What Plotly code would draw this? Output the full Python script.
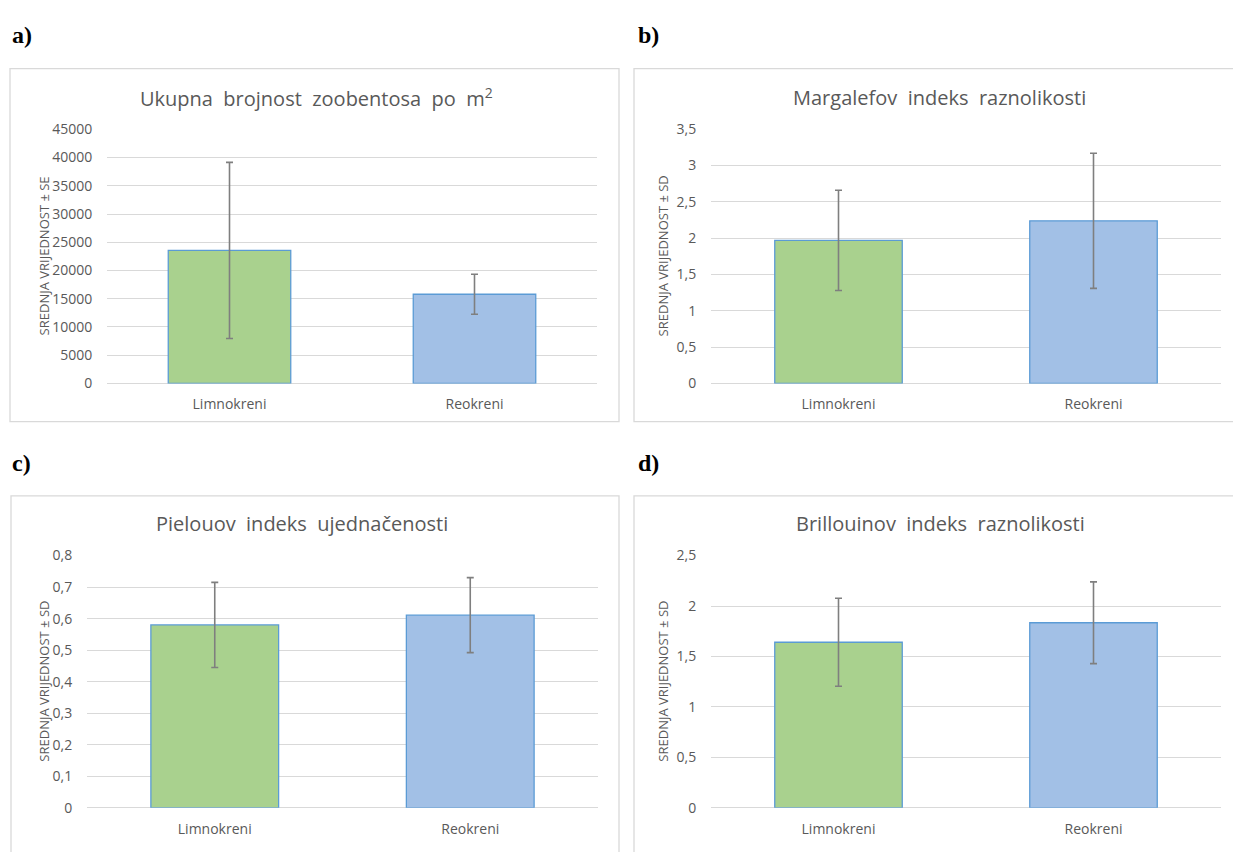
import plotly.graph_objects as go

W, H = 1233, 852

categories = ["Limnokreni", "Reokreni"]

# a) Ukupna brojnost zoobentosa po m2 (mean ± SE)
abund_mean = [23550, 15800]
abund_se = [15600, 3550]
# b) Margalefov indeks (mean ± SD)
marg_mean = [1.97, 2.24]
marg_sd = [0.69, 0.93]
# c) Pielouov indeks (mean ± SD)
piel_mean = [0.58, 0.611]
piel_sd = [0.135, 0.119]
# d) Brillouinov indeks (mean ± SD)
bril_mean = [1.641, 1.834]
bril_sd = [0.436, 0.405]

bar_colors = ["#A9D18E", "#A2C0E6"]
bar_line = "#5B9BD5"
err_color = "#7F7F7F"
grid_color = "#D9D9D9"
text_color = "#595959"
FONT = "Open Sans"


def px(x):
    return x / W


def py(y):
    return 1 - y / H


def wide(s):
    return s.replace(" ", "\u00a0 ")


panels = [
    dict(mean=abund_mean, err=abund_se, rng=[0, 45000], dtick=5000, fmt="d",
         dom_x=[107, 597], dom_y=[122, 382],
         title=wide("Ukupna brojnost zoobentosa po m") + "<sup>2</sup>", title_xy=(316, 89),
         ylab="SREDNJA VRIJEDNOST ± SE", ylab_xy=(44, 252),
         letter="a)", letter_xy=(10, 26), box=(10, 60, 619, 421)),
    dict(mean=marg_mean, err=marg_sd, rng=[0, 3.5], dtick=0.5, fmt="",
         dom_x=[711, 1221], dom_y=[122, 382],
         title=wide("Margalefov indeks raznolikosti"), title_xy=(939, 89),
         ylab="SREDNJA VRIJEDNOST ± SD", ylab_xy=(663, 252),
         letter="b)", letter_xy=(636, 26), box=(634, 60, 1245, 421)),
    dict(mean=piel_mean, err=piel_sd, rng=[0, 0.8], dtick=0.1, fmt="",
         dom_x=[87, 598], dom_y=[558, 816],
         title=wide("Pielouov indeks ujednačenosti"), title_xy=(302, 525),
         ylab="SREDNJA VRIJEDNOST ± SD", ylab_xy=(44, 687),
         letter="c)", letter_xy=(10, 463), box=(11, 497, 619, 870)),
    dict(mean=bril_mean, err=bril_sd, rng=[0, 2.5], dtick=0.5, fmt="",
         dom_x=[711, 1221], dom_y=[558, 816],
         title=wide("Brillouinov indeks raznolikosti"), title_xy=(940, 525),
         ylab="SREDNJA VRIJEDNOST ± SD", ylab_xy=(663, 687),
         letter="d)", letter_xy=(636, 463), box=(634, 497, 1245, 870)),
]

fig = go.Figure()
annotations = []
shapes = []
layout_axes = {}

for i, p in enumerate(panels, start=1):
    xa = "x" if i == 1 else f"x{i}"
    ya = "y" if i == 1 else f"y{i}"
    fig.add_trace(go.Bar(
        x=categories, y=p["mean"], xaxis=xa, yaxis=ya, width=0.5,
        marker=dict(color=bar_colors, line=dict(color=bar_line, width=1.3)),
        error_y=dict(type="data", array=p["err"], visible=True,
                     color=err_color, thickness=1.6, width=3.5),
        showlegend=False, hoverinfo="skip",
    ))
    xkey = "xaxis" if i == 1 else f"xaxis{i}"
    ykey = "yaxis" if i == 1 else f"yaxis{i}"
    layout_axes[xkey] = dict(
        domain=[px(p["dom_x"][0]), px(p["dom_x"][1])], anchor=ya,
        showgrid=False, showline=False, zeroline=False,
        ticks="outside", ticklen=8, tickcolor="rgba(0,0,0,0)",
        tickfont=dict(family=FONT, size=14, color=text_color),
        fixedrange=True,
    )
    ya_dict = dict(
        domain=[py(p["dom_y"][1]), py(p["dom_y"][0])], anchor=xa,
        range=p["rng"], dtick=p["dtick"], tick0=0,
        showgrid=True, gridcolor=grid_color, gridwidth=1,
        zeroline=True, zerolinecolor=grid_color, zerolinewidth=1,
        showline=False,
        ticks="outside", ticklen=11, tickcolor="rgba(0,0,0,0)",
        tickfont=dict(family=FONT, size=14, color=text_color),
        fixedrange=True,
    )
    if p["fmt"]:
        ya_dict["tickformat"] = p["fmt"]
    layout_axes[ykey] = ya_dict

    annotations.append(dict(
        text=p["title"], x=px(p["title_xy"][0]), y=py(p["title_xy"][1]),
        xref="paper", yref="paper", xanchor="center", yanchor="middle",
        showarrow=False, font=dict(family=FONT, size=20, color=text_color),
    ))
    annotations.append(dict(
        text=p["ylab"], x=px(p["ylab_xy"][0]), y=py(p["ylab_xy"][1]),
        xref="paper", yref="paper", xanchor="center", yanchor="middle",
        textangle=-90, showarrow=False,
        font=dict(family=FONT, size=13, color=text_color),
    ))
    annotations.append(dict(
        text="<b>" + p["letter"] + "</b>", x=px(p["letter_xy"][0]),
        y=py(p["letter_xy"][1]),
        xref="paper", yref="paper", xanchor="left", yanchor="middle",
        showarrow=False,
        font=dict(family="Liberation Serif", size=24, color="black"),
    ))
    bx0, by0, bx1, by1 = p["box"]
    shapes.append(dict(
        type="rect", xref="paper", yref="paper",
        x0=px(bx0), x1=px(bx1), y0=py(by1), y1=py(by0),
        line=dict(color=grid_color, width=1.3), fillcolor="rgba(0,0,0,0)",
        layer="below",
    ))

fig.update_layout(
    width=W, height=H,
    margin=dict(l=0, r=0, t=0, b=0),
    paper_bgcolor="white", plot_bgcolor="white",
    separators=",.",
    annotations=annotations, shapes=shapes,
    **layout_axes,
)

fig.write_html(
    "out.html",
    config={"displayModeBar": False},
    post_script="document.body.style.margin='0';document.body.style.overflow='hidden';",
)
